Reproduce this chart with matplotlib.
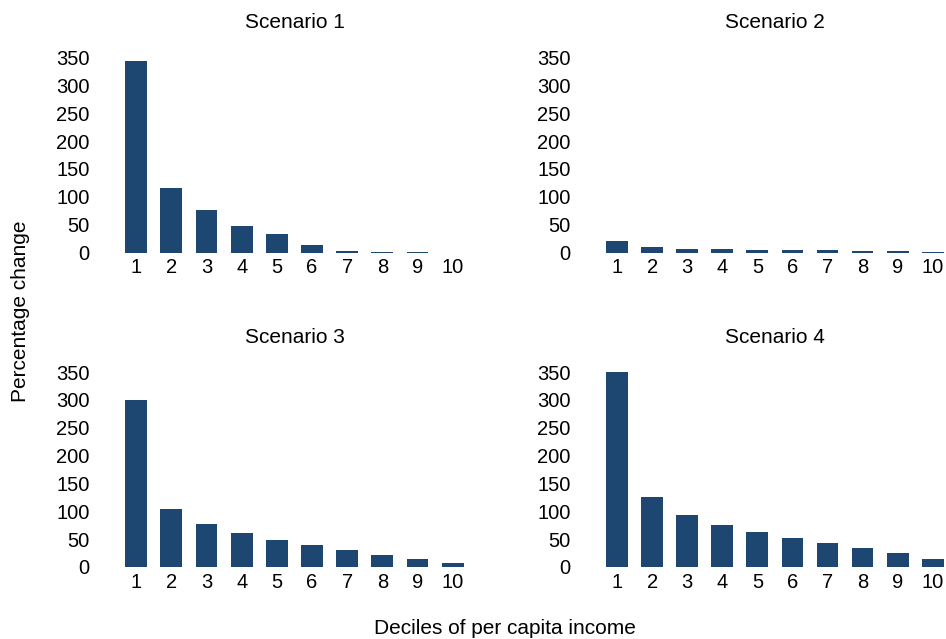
import numpy as np
import matplotlib
matplotlib.use('Agg')
import matplotlib.pyplot as plt

plt.rcParams['font.family'] = ['Liberation Sans', 'DejaVu Sans']

# percentage change by income decile for each scenario
deciles = list(range(1, 11))
scenario_1 = [344, 115, 76, 47, 33, 13, 2.5, 0.5, 0.5, 0]
scenario_2 = [21, 10, 6.5, 6.5, 5, 4.5, 4.5, 3, 2, 1.5]
scenario_3 = [300, 105, 77, 61, 48, 39, 30, 21, 14, 7]
scenario_4 = [350, 125, 93, 75, 62, 52, 43, 34, 25, 14]
titles = ['Scenario 1', 'Scenario 2', 'Scenario 3', 'Scenario 4']
yticks = [0, 50, 100, 150, 200, 250, 300, 350]

bar_color = '#1d4770'
W, H = 946, 639

fig = plt.figure(figsize=(W / 100, H / 100), dpi=100)

# panel boxes in pixels: left, baseline (from top), right
boxes = [(95, 252.5, 465), (576, 252.5, 945), (95, 567, 465), (576, 567, 945)]
ymax = 365
px_per_unit = 0.557
series = [scenario_1, scenario_2, scenario_3, scenario_4]

for (left, base, right), vals, title in zip(boxes, series, titles):
    h = ymax * px_per_unit
    ax = fig.add_axes([left / W, (H - base) / H, (right - left) / W, h / H])
    ax.bar(deciles, vals, width=0.62, color=bar_color)
    ax.set_xlim(-0.17, 10.35)
    ax.set_ylim(0, ymax)
    ax.set_xticks(deciles)
    ax.set_yticks(yticks)
    ax.tick_params(length=0, labelsize=14.5, pad=4)
    for s in ax.spines.values():
        s.set_visible(False)
    ax.set_title(title, fontsize=15, x=0.54, pad=15)

fig.text(20 / W, 1 - 311 / H, 'Percentage change', rotation=90,
         ha='center', va='center', fontsize=15)
fig.text(505 / W, 1 - 628 / H, 'Deciles of per capita income',
         ha='center', va='center', fontsize=15)

fig.savefig('out.png', dpi=100)
